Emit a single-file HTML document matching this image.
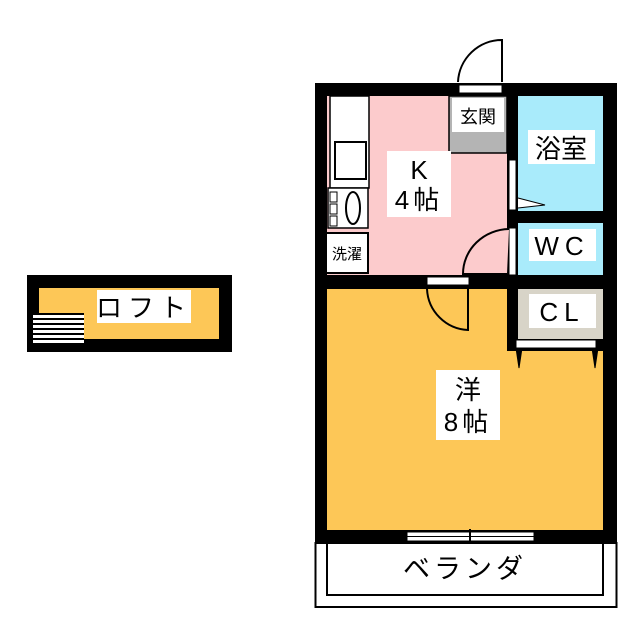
<!DOCTYPE html>
<html><head><meta charset="utf-8"><style>html,body{margin:0;padding:0;background:#fff}svg{display:block}text{font-family:"Liberation Sans","Noto Sans CJK JP",sans-serif;fill:#000}</style></head><body>
<svg width="640" height="640" viewBox="0 0 640 640" xmlns="http://www.w3.org/2000/svg">
<!-- loft -->
<rect x="27" y="275" width="205" height="77" fill="#000"/>
<rect x="39" y="288" width="180" height="51" fill="#fdc757"/>
<rect x="97" y="290" width="94" height="33" fill="#fff"/>
<text x="144" y="317" font-size="26" text-anchor="middle" letter-spacing="6">ロフト</text>
<rect x="33" y="313" width="51" height="32" fill="#000"/>
<g fill="#fff"><rect x="33" y="315" width="51" height="3"/><rect x="33" y="320" width="51" height="3"/><rect x="33" y="325" width="51" height="3"/><rect x="33" y="330" width="51" height="3"/><rect x="33" y="335" width="51" height="3"/><rect x="33" y="340" width="51" height="3"/></g>
<!-- entrance door -->
<path d="M502 82 V40 A44 44 0 0 0 458 82" fill="#fff" stroke="#000" stroke-width="2"/>
<!-- building -->
<rect x="315" y="83" width="302" height="460" fill="#000"/>
<rect x="327" y="96" width="180" height="179" fill="#fccbcc"/>
<rect x="518" y="96" width="85" height="115" fill="#a9ebfb"/>
<rect x="518" y="223" width="85" height="52" fill="#a9ebfb"/>
<rect x="518" y="289" width="85" height="50" fill="#d8d4c8"/>
<path d="M327 289 H507 V351 H603 V530 H327 Z" fill="#fdc757"/>
<rect x="459" y="85" width="43" height="8" fill="#fff" stroke="#000"/>
<!-- genkan -->
<rect x="449" y="96" width="58" height="57" fill="#b4b4b4" stroke="#000" stroke-width="1.5"/>
<rect x="452" y="98" width="52" height="34" fill="#fff"/>
<text x="478" y="123" font-size="18" text-anchor="middle">玄関</text>
<!-- kitchen -->
<rect x="330" y="96" width="39" height="92" fill="#fff" stroke="#000" stroke-width="1.5"/>
<rect x="335" y="142" width="31" height="37" fill="#fff" stroke="#000" stroke-width="2"/>
<rect x="328" y="188" width="40" height="40" fill="#fff" stroke="#000" stroke-width="1.5"/>
<rect x="330" y="192" width="7" height="10" fill="none" stroke="#000"/><rect x="330" y="204" width="7" height="10" fill="none" stroke="#000"/><rect x="330" y="216" width="7" height="10" fill="none" stroke="#000"/>
<ellipse cx="353" cy="208" rx="7" ry="16" fill="#fff" stroke="#000" stroke-width="2"/>
<rect x="326" y="233" width="42" height="40" fill="#fff" stroke="#000" stroke-width="2"/>
<text x="347" y="259" font-size="15" text-anchor="middle">洗濯</text>
<!-- K label -->
<rect x="387" y="151" width="64" height="66" fill="#fff"/>
<text x="419" y="179" font-size="26" text-anchor="middle">K</text>
<text x="419" y="209" font-size="26" text-anchor="middle" letter-spacing="4">4帖</text>
<!-- bath label -->
<rect x="528" y="130" width="67" height="34" fill="#fff"/>
<text x="561" y="158" font-size="26" text-anchor="middle">浴室</text>
<!-- bath door -->
<rect x="509" y="160" width="7" height="50" fill="#fff" stroke="#000"/>
<path d="M518 198 L545 205 L518 208" fill="#fff" stroke="#000"/>
<!-- WC -->
<rect x="529" y="229" width="67" height="32" fill="#fff"/>
<text x="562" y="255" font-size="26" text-anchor="middle" letter-spacing="6">WC</text>
<rect x="509" y="228" width="7" height="47" fill="#fff" stroke="#000"/>
<path d="M509 229 A47 45 0 0 0 463 274 H507" fill="#fccbcc" stroke="#000" stroke-width="2"/>
<!-- CL -->
<rect x="529" y="294" width="67" height="34" fill="#fff"/>
<text x="562" y="321" font-size="26" text-anchor="middle" letter-spacing="6">CL</text>
<rect x="516" y="340" width="80" height="8" fill="#fff" stroke="#000"/>
<path d="M516 348 L519 368 L522 348 M592 348 L595 368 L598 348" fill="#000" stroke="#000"/>
<!-- yo door -->
<rect x="427" y="277" width="42" height="8" fill="#fff" stroke="#000"/>
<path d="M427 289 A43 43 0 0 0 468 330 V289" fill="none" stroke="#000" stroke-width="2"/>
<!-- yo label -->
<rect x="436" y="370" width="64" height="70" fill="#fff"/>
<text x="468" y="399" font-size="26" text-anchor="middle">洋</text>
<text x="468" y="431" font-size="26" text-anchor="middle" letter-spacing="4">8帖</text>
<!-- window -->
<rect x="407" y="532" width="127" height="9" fill="#fff" stroke="#000"/>
<line x1="407" y1="536.5" x2="534" y2="536.5" stroke="#000"/>
<line x1="470" y1="529" x2="470" y2="543" stroke="#000" stroke-width="2"/>
<!-- balcony -->
<rect x="315.5" y="543" width="301" height="64" fill="#fff" stroke="#000" stroke-width="2"/>
<rect x="327" y="543" width="276" height="52" fill="none" stroke="#000" stroke-width="2"/>
<text x="465" y="578" font-size="27" text-anchor="middle" letter-spacing="4">ベランダ</text>
</svg>
</body></html>
